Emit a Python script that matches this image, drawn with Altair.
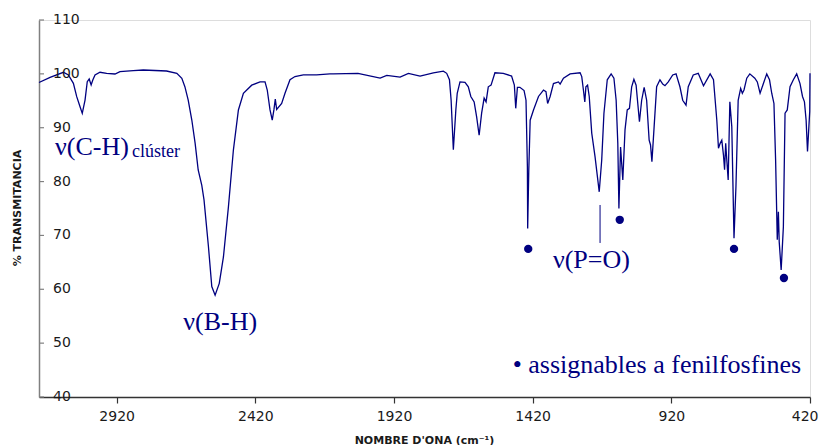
import altair as alt
import pandas as pd

# ---- spectrum (wavenumber cm^-1, % transmittance) ----
WAVENUMBER = [3200, 3160, 3112, 3094, 3076, 3064, 3052, 3044, 3034, 3026, 3019, 3012, 3006, 2998,
              2980, 2956, 2926, 2908, 2860, 2824, 2740, 2703, 2685, 2674, 2662, 2649, 2637, 2626,
              2613, 2605, 2589, 2577, 2565, 2550, 2535, 2517, 2499, 2481, 2463, 2433, 2403, 2385,
              2377, 2367, 2359, 2353, 2348, 2343, 2325, 2313, 2295, 2277, 2247, 2199, 2151, 2139,
              2050, 1970, 1946, 1898, 1868, 1826, 1778, 1742, 1730, 1720, 1714, 1706, 1697, 1692,
              1682, 1664, 1652, 1643, 1631, 1622, 1613, 1604, 1595, 1588, 1580, 1570, 1556, 1526,
              1496, 1486, 1481, 1475, 1466, 1451, 1444, 1439, 1438, 1434, 1429, 1417, 1399, 1381,
              1372, 1366, 1357, 1345, 1327, 1321, 1309, 1285, 1249, 1243, 1237, 1232, 1228, 1222,
              1216, 1207, 1195, 1180, 1171, 1163, 1151, 1137, 1127, 1119, 1113, 1109, 1103, 1095,
              1087, 1079, 1071, 1063, 1055, 1047, 1035, 1027, 1018, 1009, 1000, 995, 990, 982,
              973, 961, 951, 943, 931, 915, 903, 889, 879, 867, 859, 841, 823, 804,
              780, 768, 756, 750, 744, 738, 732, 728, 724, 720, 715, 709, 702, 694,
              687, 679, 670, 664, 658, 648, 637, 619, 610, 600, 588, 576, 566, 558,
              550, 544, 538, 534, 531, 524, 516, 510, 502, 492, 480, 468, 456, 447,
              440, 434, 429, 424, 421, 420]
TRANSMITTANCE = [98.4, 99.36, 100.29, 99.79, 98.24, 95.76, 93.9, 92.67, 95.14, 98.54, 99.04, 97.93, 98.86, 99.79,
                 100.29, 100.1, 99.97, 100.4, 100.59, 100.72, 100.53, 100.1, 99.17, 97.62, 95.14, 91.43, 87.1, 82.15,
                 79.3, 76.6, 67.9, 60.5, 58.9, 61.1, 66.0, 75.3, 85.9, 93.3, 96.4, 97.9, 98.5, 98.5,
                 97.0, 93.3, 91.4, 93.3, 95.3, 93.4, 94.5, 96.4, 98.9, 99.5, 99.8, 99.8, 100.0, 100.0,
                 100.1, 99.2, 99.7, 99.4, 100.1, 99.6, 100.2, 100.5, 100.1, 98.9, 95.1, 85.9, 93.3, 96.4,
                 98.5, 98.4, 97.6, 95.8, 94.8, 92.0, 88.6, 92.7, 95.5, 94.8, 97.6, 97.9, 100.2, 100.1,
                 99.6, 97.9, 93.6, 97.5, 97.5, 96.9, 95.1, 82.8, 71.3, 82.0, 91.4, 93.3, 95.8, 97.0,
                 96.7, 94.5, 95.8, 98.2, 98.5, 98.1, 99.2, 100.0, 100.2, 99.5, 97.0, 94.8, 97.6, 97.9,
                 95.8, 89.0, 84.6, 78.1, 84.0, 92.7, 98.9, 100.0, 99.2, 95.1, 87.1, 75.0, 86.4, 80.3,
                 89.6, 93.3, 93.6, 97.6, 99.0, 97.9, 91.1, 95.1, 97.5, 95.1, 87.7, 86.8, 83.7, 90.2,
                 97.6, 98.9, 98.1, 97.8, 98.5, 99.8, 100.0, 97.6, 95.1, 94.2, 97.6, 99.8, 100.1, 97.8,
                 100.0, 98.9, 91.4, 86.2, 87.1, 87.7, 84.9, 82.2, 87.1, 84.0, 80.3, 94.8, 90.2, 69.5,
                 79.1, 95.1, 97.3, 96.4, 97.0, 99.2, 100.0, 99.2, 98.5, 96.4, 98.2, 100.0, 98.9, 96.4,
                 94.5, 84.0, 69.2, 74.4, 68.8, 63.6, 71.6, 92.7, 93.3, 97.6, 98.9, 100.0, 98.2, 95.8,
                 94.8, 91.4, 85.6, 90.2, 93.0, 100.1]

# ---- markers "assignables a fenilfosfines" ----
DOT_WN = [1436, 1106, 694, 514]
DOT_T = [67.5, 72.9, 67.5, 62.1]

# ---- axes ----
X_TICKS = [2920, 2420, 1920, 1420, 920, 420]
Y_TICKS = [40, 50, 60, 70, 80, 90, 100, 110]
X_TITLE = "NOMBRE D'ONA (cm⁻¹)"
Y_TITLE = ["% TRANSMITANCIA"]

# ---- annotations ----
LABELS_MAIN = ["ν(C-H)", "ν(B-H)", "ν(P=O)", "• assignables a fenilfosfines"]
LABELS_MAIN_WN = [3142, 2680, 1347, 1492]
LABELS_MAIN_T = [84.9, 52.4, 63.95, 44.45]
LABEL_SUB = ["clúster"]
LABEL_SUB_WN = [2865]
LABEL_SUB_T = [84.6]
PO_LINE_WN = [1177]
PO_LINE_T1 = [75.65]
PO_LINE_T2 = [68.6]

NAVY = "#000080"
AXIS_TXT = "#1a1a1a"

spec_df = pd.DataFrame({"wn": WAVENUMBER, "T": TRANSMITTANCE})
dot_df = pd.DataFrame({"wn": DOT_WN, "T": DOT_T})
lab_df = pd.DataFrame({"wn": LABELS_MAIN_WN, "T": LABELS_MAIN_T, "txt": LABELS_MAIN})
sub_df = pd.DataFrame({"wn": LABEL_SUB_WN, "T": LABEL_SUB_T, "txt": LABEL_SUB})
po_df = pd.DataFrame({"wn": PO_LINE_WN, "T": PO_LINE_T1, "T2": PO_LINE_T2})
ytick_df = pd.DataFrame({"T": Y_TICKS})
ytitle_df = pd.DataFrame({"t": Y_TITLE})

x_scale = alt.Scale(domain=[420, 3200], reverse=True, nice=False, zero=False)
y_scale = alt.Scale(domain=[40, 110], nice=False, zero=False)

X_ENC = alt.X(
    "wn:Q", scale=x_scale,
    axis=alt.Axis(
        values=X_TICKS, format="d", title=X_TITLE, grid=False,
        labelFont="DejaVu Sans", labelFontSize=14, labelColor=AXIS_TXT,
        labelPadding=6, tickSize=6, tickColor="#333333", tickWidth=1.2,
        domainColor="#333333", domainWidth=1.5,
        titleFont="DejaVu Sans", titleFontSize=11, titleFontWeight="bold",
        titleColor=AXIS_TXT, titleX=385, titleY=43, titleBaseline="middle",
        labelFlush=True, labelFlushOffset=8, labelOverlap=False,
    ),
)
Y_ENC = alt.Y(
    "T:Q", scale=y_scale,
    axis=alt.Axis(
        values=Y_TICKS, title=None, grid=False, labels=False, ticks=False,
        domainColor="#808080", domainWidth=1.5,
    ),
)

line = alt.Chart(spec_df).mark_line(color=NAVY, strokeWidth=1.3).encode(x=X_ENC, y=Y_ENC)

# inward y ticks, labels inside the plot and rotated y title
yticks = alt.Chart(ytick_df).mark_rule(color="#808080", strokeWidth=1.2).encode(
    y=Y_ENC, x=alt.value(0), x2=alt.value(5)
)
ylabels = alt.Chart(ytick_df).mark_text(
    font="DejaVu Sans", fontSize=14, color=AXIS_TXT, align="left", baseline="middle"
).encode(y=Y_ENC, x=alt.value(14), text=alt.Text("T:Q", format="d"))
ytitle = alt.Chart(ytitle_df).mark_text(
    font="DejaVu Sans", fontSize=11, fontWeight="bold", color=AXIS_TXT,
    align="center", baseline="middle", angle=270
).encode(x=alt.value(-21), y=alt.value(188), text="t:N")

dots = alt.Chart(dot_df).mark_circle(color=NAVY, size=70, opacity=1).encode(x=X_ENC, y=Y_ENC)

po_line = alt.Chart(po_df).mark_rule(color=NAVY, strokeWidth=1).encode(
    x=X_ENC, y=Y_ENC, y2="T2:Q"
)

labels = alt.Chart(lab_df).mark_text(
    font="Liberation Serif", fontSize=26, color=NAVY, align="left", baseline="alphabetic"
).encode(x=X_ENC, y=Y_ENC, text="txt:N")

sub = alt.Chart(sub_df).mark_text(
    font="Liberation Serif", fontSize=18, color=NAVY, align="left", baseline="alphabetic"
).encode(x=X_ENC, y=Y_ENC, text="txt:N")

chart = alt.layer(line, yticks, ylabels, ytitle, po_line, dots, labels, sub).properties(
    width=771, height=377,
    autosize=alt.AutoSizeParams(type="none"),
    padding={"left": 31, "top": 12, "right": 9, "bottom": 48},
).configure_view(stroke=None).configure(background="white")

chart.save("out.html", embed_options={"renderer": "svg", "actions": False})
